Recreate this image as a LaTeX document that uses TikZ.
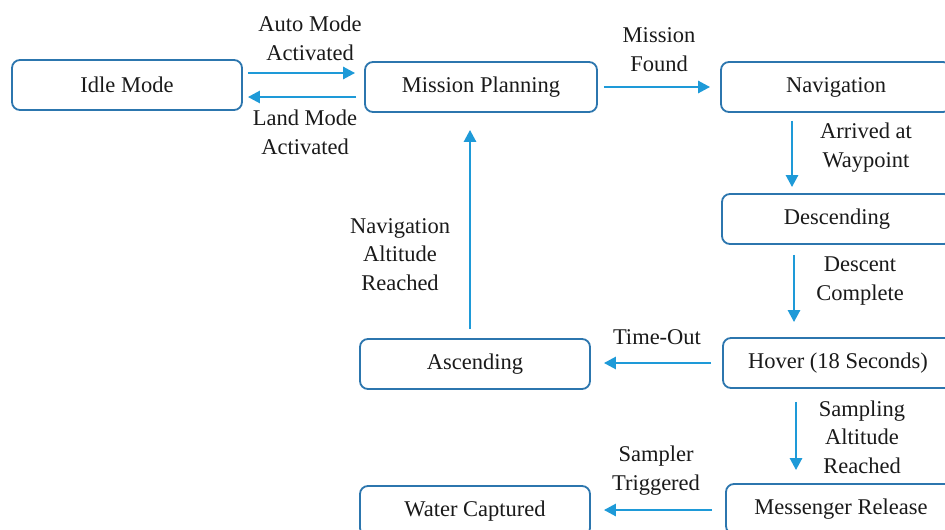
\documentclass[tikz,border=0pt]{standalone}
\usepackage{fontspec}
\setmainfont{Liberation Serif}
\usetikzlibrary{arrows.meta}
\definecolor{boxc}{HTML}{2C76AE}
\definecolor{arrc}{HTML}{1E9AD8}
\definecolor{txtc}{HTML}{1A1A1A}
\begin{document}
\begin{tikzpicture}[x=1pt,y=-1pt,
  state/.style={draw=boxc, line width=1.8pt, rounded corners=8pt, minimum width=230pt, minimum height=50pt, inner sep=0pt, text=txtc, font=\fontsize{22.5}{27}\selectfont},
  lbl/.style={align=center, text=txtc, inner sep=0pt, font=\fontsize{22.5}{28.5}\selectfont},
  arr/.style={draw=arrc, line width=2.6pt, -{Triangle[length=12pt,width=12pt]}}]
\useasboundingbox (0,0) rectangle (945,530);
\clip (0,0) rectangle (945,530);
\fill[white] (0,0) rectangle (945,530);
% states
\node[state] (idle)  at (127,85)    {Idle Mode};
\node[state, minimum width=232pt] (plan) at (481,87) {Mission Planning};
\node[state] (nav)   at (836,87)    {Navigation};
\node[state] (desc)  at (837,219)   {Descending};
\node[state] (hover) at (838,363)   {Hover (18 Seconds)};
\node[state] (asc)   at (475,364)   {Ascending};
\node[state] (water) at (475,511)   {Water Captured};
\node[state] (msg)   at (841,509)   {Messenger Release};
% connectors
\draw[arr] ([xshift=5pt,yshift=12pt]idle.east) -- ([xshift=-9pt,yshift=14pt]plan.west);
\draw[arr] ([xshift=-8pt,yshift=-10pt]plan.west) -- ([xshift=5pt,yshift=-12pt]idle.east);
\draw[arr, shorten <=6pt, shorten >=10pt] (plan.east) -- (nav.west);
\draw[arr, shorten <=8pt, shorten >=6pt] ([xshift=-44pt]nav.south) -- ([xshift=-44pt]nav.south |- desc.north);
\draw[arr, shorten <=10pt, shorten >=15pt] ([xshift=-43pt]desc.south) -- ([xshift=-43pt]desc.south |- hover.north);
\draw[arr, shorten <=11pt, shorten >=13pt] (hover.west) -- (hover.west -| asc.east);
\draw[arr, shorten <=9pt, shorten >=17pt] ([xshift=-5pt]asc.north) -- ([xshift=-5pt]asc.north |- plan.south);
\draw[arr, shorten <=13pt, shorten >=13pt] ([xshift=-42pt]hover.south) -- ([xshift=-42pt]hover.south |- msg.north);
\draw[arr, shorten <=13pt, shorten >=13pt] ([yshift=-1pt]msg.west) -- ([yshift=-1pt]msg.west -| water.east);
% labels
\node[lbl] (l1) at (310,38.5) {Auto Mode\\Activated};
\node[lbl] (l2) at (305,132.5) {Land Mode\\Activated};
\node[lbl] (l3) at (659,49.5) {Mission\\Found};
\node[lbl] (l4) at (866,147.5) {Arrived at\\Waypoint};
\node[lbl] (l5) at (860,281) {Descent\\Complete};
\node[lbl] (l6) at (400,254.5) {Navigation\\Altitude\\Reached};
\node[lbl] (l7) at (657,337) {Time-Out};
\node[lbl] (l8) at (862,437) {Sampling\\Altitude\\Reached};
\node[lbl] (l9) at (656,470.5) {Sampler\\Triggered};
\end{tikzpicture}
\end{document}
